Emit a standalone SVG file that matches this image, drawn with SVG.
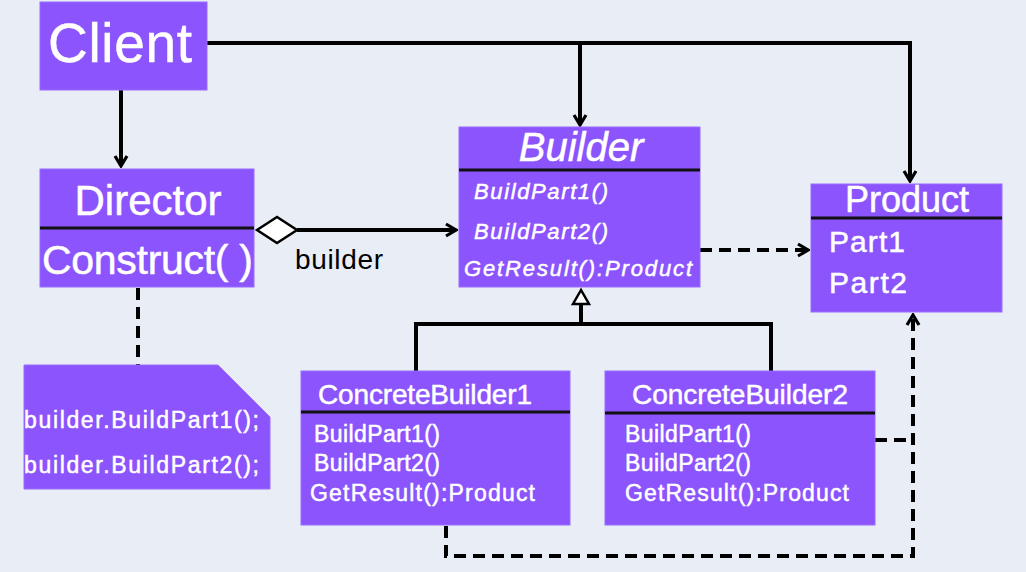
<svg xmlns="http://www.w3.org/2000/svg" width="1026" height="572" viewBox="0 0 1026 572">
<style>
.box{fill:#8b54fd;stroke:#9a6cff;stroke-width:1}
.div{stroke:#111;stroke-width:3}
.t{font-family:"Liberation Sans",Arial,sans-serif;fill:#fff;stroke:#fff;stroke-width:0.5}
.it{font-style:italic}
.c{stroke:#000;stroke-width:4;fill:none}
.d{stroke:#000;stroke-width:4;fill:none;stroke-dasharray:12 7}
</style>
<defs>
<marker id="ah" viewBox="0 0 14 16" refX="12" refY="8" markerWidth="14" markerHeight="16" markerUnits="userSpaceOnUse" orient="auto">
<path d="M2,2 L12,8 L2,14" fill="none" stroke="#000" stroke-width="3.2"/>
</marker>
</defs>
<rect width="1026" height="572" fill="#e9edf6"/>

<g id="connectors">
<path class="c" d="M207,43 H910 V181" marker-end="url(#ah)"/>
<path class="c" d="M580,43 V125" marker-end="url(#ah)"/>
<path class="c" d="M121,90 V166" marker-end="url(#ah)"/>
<path class="c" d="M297,230 H456" marker-end="url(#ah)"/>
<polygon points="257,230 277,217 297,230 277,243" fill="#fff" stroke="#000" stroke-width="2.5"/>
<path class="d" d="M700,250 H808" marker-end="url(#ah)"/>
<path class="d" d="M138,288 V365"/>
<path class="c" d="M416,371 V324 H771 V371"/>
<path class="c" d="M581,324 V304"/>
<polygon points="581,290 573,304 589,304" fill="#fff" stroke="#000" stroke-width="2.5"/>
<path class="d" d="M875,440 H913"/>
<path class="d" d="M446,526 V556 H913 V315" marker-end="url(#ah)"/>
</g>

<g id="client">
<rect class="box" x="40" y="2" width="167" height="88"/>
<text class="t" x="48" y="62" font-size="55" textLength="144">Client</text>
</g>

<g id="director">
<rect class="box" x="40" y="169" width="214" height="118"/>
<line class="div" x1="40" y1="228" x2="254" y2="228"/>
<text class="t" x="148" y="215" font-size="42" text-anchor="middle">Director</text>
<text class="t" x="42" y="274" font-size="41" textLength="211">Construct( )</text>
</g>

<text id="builder-label" x="295" y="269" font-family="Liberation Sans,Arial,sans-serif" font-size="28" fill="#000" textLength="88">builder</text>

<g id="builder">
<rect class="box" x="459" y="127" width="241" height="160"/>
<line class="div" x1="459" y1="170" x2="700" y2="170"/>
<text class="t it" x="581" y="161" font-size="40" text-anchor="middle">Builder</text>
<text class="t it" x="474" y="199" font-size="22" textLength="134">BuildPart1()</text>
<text class="t it" x="474" y="239" font-size="22" textLength="134">BuildPart2()</text>
<text class="t it" x="464" y="276" font-size="22" textLength="228">GetResult():Product</text>
</g>

<g id="product">
<rect class="box" x="811" y="184" width="191" height="128"/>
<line class="div" x1="811" y1="218" x2="1002" y2="218"/>
<text class="t" x="907" y="212" font-size="36" text-anchor="middle">Product</text>
<text class="t" x="829" y="252" font-size="30" textLength="76">Part1</text>
<text class="t" x="829" y="293" font-size="30" textLength="78">Part2</text>
</g>

<g id="note">
<path class="box" d="M24,365 H218 L270,417 V489 H24 Z"/>
<text class="t" x="24" y="428" font-size="23" textLength="235">builder.BuildPart1();</text>
<text class="t" x="24" y="473" font-size="23" textLength="235">builder.BuildPart2();</text>
</g>

<g id="concretebuilder1">
<rect class="box" x="301" y="371" width="269" height="154"/>
<line class="div" x1="301" y1="412" x2="570" y2="412"/>
<text class="t" x="318" y="404" font-size="28" textLength="214">ConcreteBuilder1</text>
<text class="t" x="314" y="442" font-size="23" textLength="126">BuildPart1()</text>
<text class="t" x="314" y="471" font-size="23" textLength="126">BuildPart2()</text>
<text class="t" x="310" y="501" font-size="23" textLength="225">GetResult():Product</text>
</g>

<g id="concretebuilder2">
<rect class="box" x="605" y="371" width="270" height="154"/>
<line class="div" x1="605" y1="413" x2="875" y2="413"/>
<text class="t" x="632" y="404" font-size="28" textLength="216">ConcreteBuilder2</text>
<text class="t" x="625" y="442" font-size="23" textLength="126">BuildPart1()</text>
<text class="t" x="625" y="471" font-size="23" textLength="126">BuildPart2()</text>
<text class="t" x="625" y="501" font-size="23" textLength="224">GetResult():Product</text>
</g>
</svg>
